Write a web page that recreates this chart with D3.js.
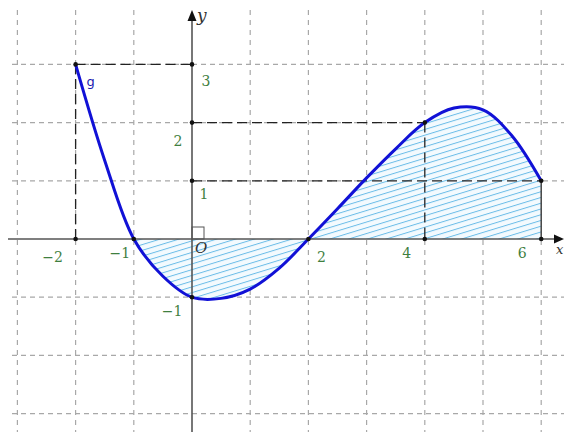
<!DOCTYPE html>
<html>
<head>
<meta charset="utf-8">
<script src="https://cdn.jsdelivr.net/npm/d3@7"></script>
<style>
  html, body { margin: 0; padding: 0; background: #fff; }
  svg { display: block; }
</style>
</head>
<body>
<svg id="chart" width="564" height="432"></svg>
<script>
// curve g
const curveX = [-2, -1.5, -1, -0.5, 0, 0.5, 1, 1.5, 2, 2.5, 3, 3.5, 4, 4.5, 5, 5.5, 6];
const curveY = [3, 1.35, 0, -0.64, -1, -1.02, -0.86, -0.5, 0, 0.52, 1.05, 1.55, 2, 2.25, 2.22, 1.77, 1];

const gridX = [-3, -2, -1, 1, 2, 3, 4, 5, 6];
const gridY = [-3, -2, -1, 1, 2, 3];
const xTickLabels = [-2, -1, 2, 4, 6];
const yTickLabels = [3, 2, 1, -1];

// marked points (x, y pairs)
const markX = [-2, 0, 0, 0, -2, 4, 4, 6, 6, -1, 2, 0];
const markY = [3, 3, 2, 1, 0, 2, 0, 1, 0, 0, 0, -1];
const shadeFrom = -1, shadeTo = 6;

function draw() {
    const svg = d3.select("#chart");
    const x = d3.scaleLinear().domain([0, 6]).range([192, 541.2]);
    const y = d3.scaleLinear().domain([0, 3]).range([239, 64.4]);
    const green = "#3f7f3f";
    const smooth = d3.curveCatmullRom.alpha(0.5);

    // hatch pattern
    const defs = svg.append("defs");
    const pat = defs.append("pattern")
        .attr("id", "hatch")
        .attr("patternUnits", "userSpaceOnUse")
        .attr("width", 6).attr("height", 5.5)
        .attr("patternTransform", "rotate(-17)");
    pat.append("rect").attr("width", 6).attr("height", 5.5).attr("fill", "#f3fafe");
    pat.append("line").attr("x1", 0).attr("x2", 6).attr("y1", 0.5).attr("y2", 0.5)
        .attr("stroke", "#6cbde8").attr("stroke-width", 1);

    // grid
    svg.append("g").selectAll("line").data(gridX).enter().append("line")
        .attr("x1", d => x(d)).attr("x2", d => x(d))
        .attr("y1", 10).attr("y2", 432)
        .attr("stroke", "#a8a8a8").attr("stroke-width", 1.2)
        .attr("stroke-dasharray", "5,5");
    svg.append("g").selectAll("line").data(gridY).enter().append("line")
        .attr("x1", 12).attr("x2", 564)
        .attr("y1", d => y(d)).attr("y2", d => y(d))
        .attr("stroke", "#a8a8a8").attr("stroke-width", 1.2)
        .attr("stroke-dasharray", "5,4");

    // hatched area
    const pts = curveX.map((v, i) => ({ x: v, y: curveY[i] }));
    const shadePts = pts.filter(p => p.x >= shadeFrom && p.x <= shadeTo);
    svg.append("path")
        .datum(shadePts)
        .attr("d", d3.area().x(d => x(d.x)).y0(y(0)).y1(d => y(d.y)).curve(smooth))
        .attr("fill", "url(#hatch)");

    // helper dashed segments
    const helpers = [
        [-2, 0, -2, 3], [-2, 3, 0, 3],
        [0, 2, 4, 2], [4, 2, 4, 0],
        [0, 1, 6, 1]
    ];
    svg.append("g").selectAll("line").data(helpers).enter().append("line")
        .attr("x1", d => x(d[0])).attr("y1", d => y(d[1]))
        .attr("x2", d => x(d[2])).attr("y2", d => y(d[3]))
        .attr("stroke", "#222").attr("stroke-width", 1.3)
        .attr("stroke-dasharray", "10,5");
    svg.append("line")
        .attr("x1", x(6)).attr("x2", x(6)).attr("y1", y(1)).attr("y2", y(0))
        .attr("stroke", "#444").attr("stroke-width", 1.5);

    // axes
    svg.append("line").attr("x1", 8).attr("x2", 556).attr("y1", y(0)).attr("y2", y(0))
        .attr("stroke", "#555").attr("stroke-width", 1.6);
    svg.append("path").attr("d", `M564,${y(0)} L554,${y(0) - 4.5} L554,${y(0) + 4.5} Z`).attr("fill", "#111");
    svg.append("line").attr("x1", x(0)).attr("x2", x(0)).attr("y1", 432).attr("y2", 20)
        .attr("stroke", "#555").attr("stroke-width", 1.6);
    svg.append("path").attr("d", `M${x(0)},10 L${x(0) - 4.5},21 L${x(0) + 4.5},21 Z`).attr("fill", "#111");

    // right angle mark
    svg.append("rect")
        .attr("x", x(0)).attr("y", y(0) - 12).attr("width", 12).attr("height", 12)
        .attr("fill", "none").attr("stroke", "#555").attr("stroke-width", 1);

    // curve
    svg.append("path")
        .datum(pts)
        .attr("d", d3.line().x(d => x(d.x)).y(d => y(d.y)).curve(smooth))
        .attr("fill", "none").attr("stroke", "#1111d6").attr("stroke-width", 3);

    // points
    svg.append("g").selectAll("circle").data(markX).enter().append("circle")
        .attr("cx", d => x(d)).attr("cy", (d, i) => y(markY[i]))
        .attr("r", 2.3).attr("fill", "#111");

    // labels
    const font = "'DejaVu Serif', serif";
    const xdx = { "-2": -23, "-1": -14, "2": 13, "4": -18, "6": -19 };
    const xdy = { "-2": 23, "-1": 19, "2": 23, "4": 19, "6": 19 };
    svg.append("g").selectAll("text").data(xTickLabels).enter().append("text")
        .attr("x", d => x(d) + xdx[d]).attr("y", d => y(0) + xdy[d])
        .attr("text-anchor", "middle")
        .attr("font-family", font).attr("font-size", 14).attr("fill", green)
        .text(d => d < 0 ? "\u2212" + Math.abs(d) : d);
    const ydx = { "3": 14, "2": -14, "1": 12, "-1": -20 };
    const ydy = { "3": 22, "2": 23, "1": 18, "-1": 19 };
    svg.append("g").selectAll("text").data(yTickLabels).enter().append("text")
        .attr("x", d => x(0) + ydx[d]).attr("y", d => y(d) + ydy[d])
        .attr("text-anchor", "middle")
        .attr("font-family", font).attr("font-size", 14).attr("fill", green)
        .text(d => d < 0 ? "\u2212" + Math.abs(d) : d);

    svg.append("text").attr("x", x(0) + 3).attr("y", y(0) + 14)
        .attr("font-family", font).attr("font-style", "italic").attr("font-size", 15)
        .attr("fill", "#333").text("O");
    svg.append("text").attr("x", x(0) + 5).attr("y", 21)
        .attr("font-family", font).attr("font-style", "italic").attr("font-size", 17)
        .attr("fill", "#333").text("y");
    svg.append("text").attr("x", 556).attr("y", y(0) + 15)
        .attr("font-family", font).attr("font-style", "italic").attr("font-size", 13)
        .attr("fill", "#333").text("x");
    svg.append("text").attr("x", x(-2) + 11).attr("y", y(3) + 22)
        .attr("font-family", "'DejaVu Sans', sans-serif").attr("font-size", 13)
        .attr("fill", "#1a1ab0").text("g");
}

draw();
</script>
</body>
</html>
